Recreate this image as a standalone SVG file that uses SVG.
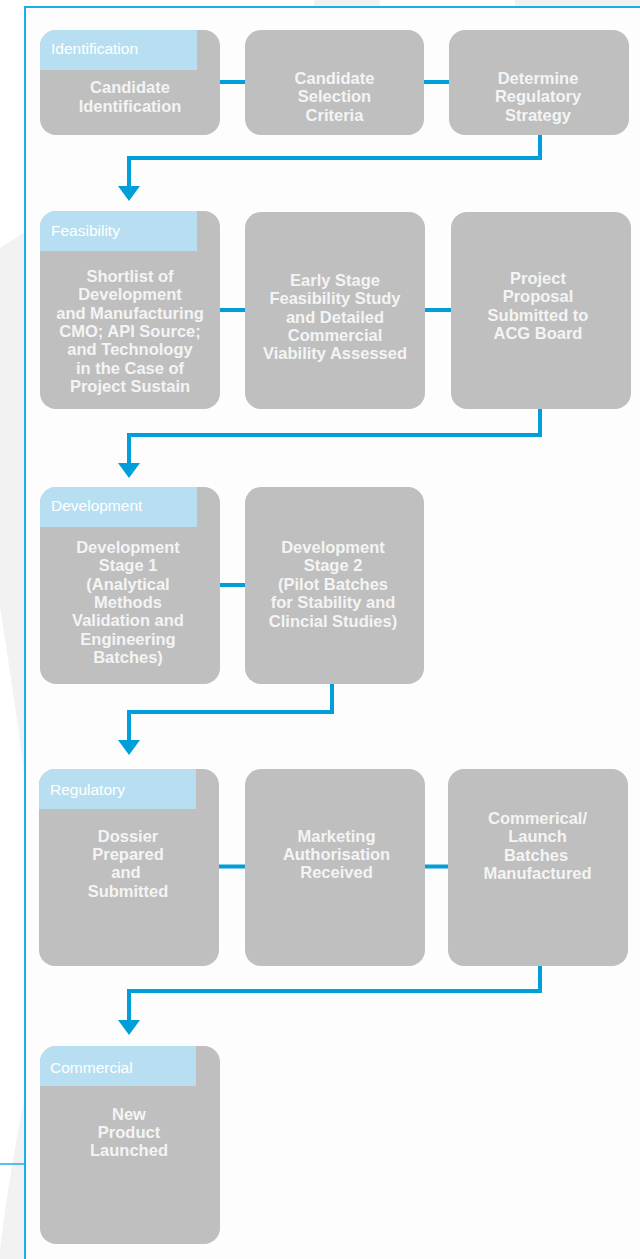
<svg xmlns="http://www.w3.org/2000/svg" width="640" height="1259" viewBox="0 0 640 1259">
  <style>
    .box { fill: #bfbfbf; }
    .hdr { fill: #b8dff1; }
    .lbl { font-family: "Liberation Sans", Arial, sans-serif; font-size: 15.5px; fill: #ffffff; }
    .txt { font-family: "Liberation Sans", Arial, sans-serif; font-size: 16.5px; font-weight: bold; fill: #f4f4f4; text-anchor: middle; }
    .link { fill: none; stroke: #009fda; stroke-width: 4; }
    .head { fill: #009fda; }
    .frame { fill: none; stroke: #1aaeea; }
  </style>

  <!-- page background with faint watermark behind the frame -->
  <rect x="0" y="0" width="640" height="1259" fill="#ffffff"/>
  <g id="watermark" fill="#f2f2f2">
    <path d="M0,248 L25,232 L25,1259 L0,1259 Z"/>
    <rect x="314" y="0" width="66" height="7"/>
    <rect x="515" y="0" width="125" height="7"/>
  </g>
  <path d="M0,607 C8,660 18,720 25,785 L25,1095 C14,1150 6,1200 0,1250 Z" fill="#ffffff"/>
  <rect x="25" y="7" width="615" height="1252" fill="#fdfdfd"/>

  <!-- frame -->
  <g id="frame">
    <path class="frame" stroke-width="2" d="M640,7 H25 V1259"/>
    <path class="frame" stroke-width="1.5" d="M0,1164 H25"/>
  </g>

  <!-- connectors -->
  <g id="connectors">
    <path class="link" d="M220,82 H245 M424,82 H449"/>
    <path class="link" d="M220,310 H245 M424,310 H451"/>
    <path class="link" d="M220,585 H245"/>
    <path class="link" d="M219,866.5 H245 M425,866.5 H448"/>

    <path class="link" d="M540,135 V158 H129 V188"/>
    <polygon class="head" points="118,186 140,186 129,201"/>
    <path class="link" d="M540,409 V435 H129 V465"/>
    <polygon class="head" points="118,463 140,463 129,478"/>
    <path class="link" d="M332,684 V712 H129 V742"/>
    <polygon class="head" points="118,740 140,740 129,755"/>
    <path class="link" d="M540,966 V991 H129 V1022"/>
    <polygon class="head" points="118,1020 140,1020 129,1035"/>
  </g>

  <!-- row 1 -->
  <g id="candidate-identification">
    <rect class="box" x="40" y="30" width="180" height="105" rx="16"/>
    <path class="hdr" d="M40,46 A16,16 0 0 1 56,30 H197 V70 H40 Z"/>
    <text class="lbl" x="51" y="54">Identification</text>
    <text class="txt" x="130" y="93">Candidate</text>
    <text class="txt" x="130" y="111.5">Identification</text>
  </g>
  <g id="candidate-selection">
    <rect class="box" x="245" y="30" width="179" height="105" rx="16"/>
    <text class="txt" x="334.5" y="84">Candidate</text>
    <text class="txt" x="334.5" y="102.4">Selection</text>
    <text class="txt" x="334.5" y="120.8">Criteria</text>
  </g>
  <g id="regulatory-strategy">
    <rect class="box" x="449" y="30" width="180" height="105" rx="16"/>
    <text class="txt" x="538" y="84">Determine</text>
    <text class="txt" x="538" y="102.4">Regulatory</text>
    <text class="txt" x="538" y="120.8">Strategy</text>
  </g>

  <!-- row 2 -->
  <g id="shortlist">
    <rect class="box" x="40" y="211" width="180" height="198" rx="16"/>
    <path class="hdr" d="M40,227 A16,16 0 0 1 56,211 H197 V251 H40 Z"/>
    <text class="lbl" x="51" y="235.5">Feasibility</text>
    <text class="txt" x="130" y="281.7">Shortlist of</text>
    <text class="txt" x="130" y="300.1">Development</text>
    <text class="txt" x="130" y="318.5">and Manufacturing</text>
    <text class="txt" x="130" y="336.9">CMO; API Source;</text>
    <text class="txt" x="130" y="355.3">and Technology</text>
    <text class="txt" x="130" y="373.7">in the Case of</text>
    <text class="txt" x="130" y="392.1">Project Sustain</text>
  </g>
  <g id="feasibility-study">
    <rect class="box" x="245" y="212" width="180" height="197" rx="16"/>
    <text class="txt" x="335" y="286">Early Stage</text>
    <text class="txt" x="335" y="304.3">Feasibility Study</text>
    <text class="txt" x="335" y="322.6">and Detailed</text>
    <text class="txt" x="335" y="340.9">Commercial</text>
    <text class="txt" x="335" y="359.2">Viability Assessed</text>
  </g>
  <g id="project-proposal">
    <rect class="box" x="451" y="212" width="180" height="197" rx="16"/>
    <text class="txt" x="538" y="284">Project</text>
    <text class="txt" x="538" y="302.3">Proposal</text>
    <text class="txt" x="538" y="320.6">Submitted to</text>
    <text class="txt" x="538" y="338.9">ACG Board</text>
  </g>

  <!-- row 3 -->
  <g id="development-stage-1">
    <rect class="box" x="40" y="487" width="180" height="197" rx="16"/>
    <path class="hdr" d="M40,503 A16,16 0 0 1 56,487 H197 V527 H40 Z"/>
    <text class="lbl" x="51" y="511">Development</text>
    <text class="txt" x="128" y="552.7">Development</text>
    <text class="txt" x="128" y="571.1">Stage 1</text>
    <text class="txt" x="128" y="589.5">(Analytical</text>
    <text class="txt" x="128" y="607.9">Methods</text>
    <text class="txt" x="128" y="626.3">Validation and</text>
    <text class="txt" x="128" y="644.7">Engineering</text>
    <text class="txt" x="128" y="663.1">Batches)</text>
  </g>
  <g id="development-stage-2">
    <rect class="box" x="245" y="487" width="179" height="197" rx="16"/>
    <text class="txt" x="333" y="553">Development</text>
    <text class="txt" x="333" y="571.4">Stage 2</text>
    <text class="txt" x="333" y="589.8">(Pilot Batches</text>
    <text class="txt" x="333" y="608.2">for Stability and</text>
    <text class="txt" x="333" y="626.6">Clincial Studies)</text>
  </g>

  <!-- row 4 -->
  <g id="dossier">
    <rect class="box" x="39" y="769" width="180" height="197" rx="16"/>
    <path class="hdr" d="M39,785 A16,16 0 0 1 55,769 H196 V809 H39 Z"/>
    <text class="lbl" x="50" y="795">Regulatory</text>
    <text class="txt" x="128" y="841.6">Dossier</text>
    <text class="txt" x="128" y="860">Prepared</text>
    <text class="txt" x="126" y="878.4">and</text>
    <text class="txt" x="128" y="896.8">Submitted</text>
  </g>
  <g id="marketing-authorisation">
    <rect class="box" x="245" y="769" width="180" height="197" rx="16"/>
    <text class="txt" x="336.5" y="841.6">Marketing</text>
    <text class="txt" x="336.5" y="860">Authorisation</text>
    <text class="txt" x="336.5" y="878.4">Received</text>
  </g>
  <g id="launch-batches">
    <rect class="box" x="448" y="769" width="180" height="197" rx="16"/>
    <text class="txt" x="537.5" y="824">Commerical/</text>
    <text class="txt" x="537.5" y="842.4">Launch</text>
    <text class="txt" x="536" y="860.8">Batches</text>
    <text class="txt" x="537.5" y="879.2">Manufactured</text>
  </g>

  <!-- row 5 -->
  <g id="product-launched">
    <rect class="box" x="40" y="1046" width="180" height="198" rx="16"/>
    <path class="hdr" d="M40,1062 A16,16 0 0 1 56,1046 H196 V1086 H40 Z"/>
    <text class="lbl" x="50" y="1073">Commercial</text>
    <text class="txt" x="129" y="1119.6">New</text>
    <text class="txt" x="129" y="1138">Product</text>
    <text class="txt" x="129" y="1156.4">Launched</text>
  </g>
</svg>
